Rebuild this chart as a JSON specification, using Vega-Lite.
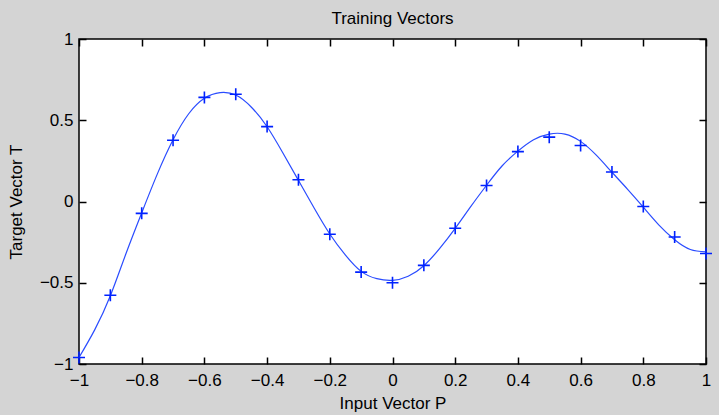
{
  "$schema": "https://vega.github.io/schema/vega-lite/v6.json",
  "width": 627,
  "height": 325,
  "autosize": {"type": "none"},
  "padding": {"left": 79, "top": 39, "right": 13, "bottom": 51},
  "background": "#d4d4d4",
  "view": {"fill": "white", "stroke": "black", "strokeWidth": 1.5},
  "title": {"text": "Training Vectors", "font": "Liberation Sans", "fontSize": 17, "fontWeight": "normal", "color": "black", "offset": 2},
  "config": {
    "axis": {
      "grid": false,
      "domain": false,
      "ticks": true,
      "tickColor": "black",
      "tickSize": 7,
      "tickWidth": 1.5,
      "offset": -7,
      "labelFont": "Liberation Sans",
      "labelFontSize": 17,
      "labelColor": "black",
      "titleFont": "Liberation Sans",
      "titleFontSize": 17,
      "titleFontWeight": "normal",
      "titleColor": "black",
      "labelFlush": false,
      "labelOverlap": false,
      "zindex": 1
    }
  },
  "datasets": {
    "points": [
      {"p": -1, "t": -0.9602}, {"p": -0.9, "t": -0.577}, {"p": -0.8, "t": -0.0729},
      {"p": -0.7, "t": 0.3771}, {"p": -0.6, "t": 0.6405}, {"p": -0.5, "t": 0.66},
      {"p": -0.4, "t": 0.4609}, {"p": -0.3, "t": 0.1336}, {"p": -0.2, "t": -0.2013},
      {"p": -0.1, "t": -0.4344}, {"p": 0, "t": -0.5}, {"p": 0.1, "t": -0.393},
      {"p": 0.2, "t": -0.1647}, {"p": 0.3, "t": 0.0988}, {"p": 0.4, "t": 0.3072},
      {"p": 0.5, "t": 0.396}, {"p": 0.6, "t": 0.3449}, {"p": 0.7, "t": 0.1816},
      {"p": 0.8, "t": -0.0312}, {"p": 0.9, "t": -0.2189}, {"p": 1, "t": -0.3201}
    ],
    "curve": [
      {"p": -1, "t": -0.96}, {"p": -0.95, "t": -0.79}, {"p": -0.9, "t": -0.58},
      {"p": -0.85, "t": -0.32}, {"p": -0.8, "t": -0.07}, {"p": -0.75, "t": 0.17},
      {"p": -0.7, "t": 0.38}, {"p": -0.65, "t": 0.54}, {"p": -0.6, "t": 0.635},
      {"p": -0.55, "t": 0.67}, {"p": -0.5, "t": 0.655}, {"p": -0.45, "t": 0.58},
      {"p": -0.4, "t": 0.46}, {"p": -0.35, "t": 0.3}, {"p": -0.3, "t": 0.13},
      {"p": -0.25, "t": -0.04}, {"p": -0.2, "t": -0.2}, {"p": -0.15, "t": -0.33},
      {"p": -0.1, "t": -0.43}, {"p": -0.05, "t": -0.475}, {"p": 0, "t": -0.485},
      {"p": 0.05, "t": -0.46}, {"p": 0.1, "t": -0.395}, {"p": 0.15, "t": -0.29},
      {"p": 0.2, "t": -0.165}, {"p": 0.25, "t": -0.03}, {"p": 0.3, "t": 0.1},
      {"p": 0.35, "t": 0.22}, {"p": 0.4, "t": 0.31}, {"p": 0.45, "t": 0.38},
      {"p": 0.5, "t": 0.415}, {"p": 0.55, "t": 0.415}, {"p": 0.6, "t": 0.37},
      {"p": 0.65, "t": 0.285}, {"p": 0.7, "t": 0.18}, {"p": 0.75, "t": 0.075},
      {"p": 0.8, "t": -0.035}, {"p": 0.85, "t": -0.145}, {"p": 0.9, "t": -0.235},
      {"p": 0.95, "t": -0.295}, {"p": 1, "t": -0.31}
    ]
  },
  "layer": [
    {
      "data": {"name": "curve"},
      "mark": {"type": "line", "color": "#2a4cff", "strokeWidth": 1.2, "interpolate": "natural", "clip": true},
      "encoding": {
        "x": {"field": "p", "type": "quantitative",
              "scale": {"domain": [-1, 1], "nice": false, "zero": false},
              "axis": {"orient": "bottom", "title": "Input Vector P", "values": [-1, -0.8, -0.6, -0.4, -0.2, 0, 0.2, 0.4, 0.6, 0.8, 1], "format": ".1~f", "labelPadding": 8, "titlePadding": 7}},
        "y": {"field": "t", "type": "quantitative",
              "scale": {"domain": [-1, 1], "nice": false, "zero": false},
              "axis": {"orient": "left", "title": "Target Vector T", "values": [-1, -0.5, 0, 0.5, 1], "format": ".1~f", "labelPadding": 6, "titlePadding": 14}}
      }
    },
    {
      "data": {"name": "points"},
      "mark": {"type": "point", "shape": "M-1,0H1M0,-1V1", "size": 144, "filled": false, "stroke": "#0022ff", "strokeWidth": 1.6, "opacity": 1},
      "encoding": {
        "x": {"field": "p", "type": "quantitative",
              "axis": {"orient": "top", "title": null, "labels": false, "values": [-1, -0.8, -0.6, -0.4, -0.2, 0, 0.2, 0.4, 0.6, 0.8, 1]}},
        "y": {"field": "t", "type": "quantitative",
              "axis": {"orient": "right", "title": null, "labels": false, "values": [-1, -0.5, 0, 0.5, 1]}}
      }
    }
  ],
  "resolve": {"axis": {"x": "independent", "y": "independent"}}
}
